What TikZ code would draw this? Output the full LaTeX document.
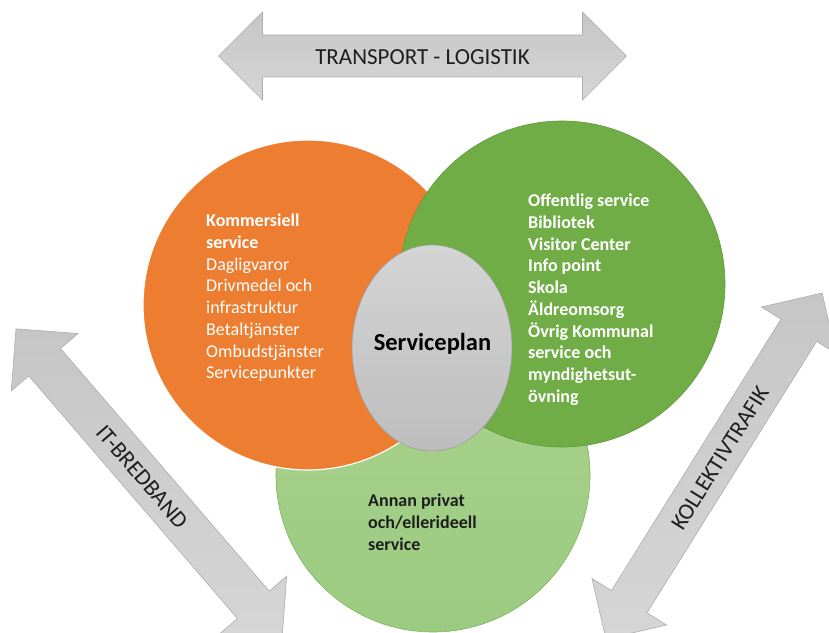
\documentclass[tikz,border=0pt]{standalone}
\usepackage{fontspec}
\setmainfont{Carlito}
\usetikzlibrary{shapes.geometric}
\definecolor{orangeC}{HTML}{ED7D31}
\definecolor{greenC}{HTML}{70AD47}
\definecolor{greenEdge}{HTML}{5E9A3A}
\definecolor{lightgreenTop}{HTML}{AAD28F}
\definecolor{lightgreenBot}{HTML}{9BCB80}
\definecolor{lightgreenEdge}{HTML}{7DB55C}
\definecolor{grayTop}{HTML}{D4D4D4}
\definecolor{grayBot}{HTML}{BDBDBD}
\definecolor{grayEdge}{HTML}{9C9C9C}
\definecolor{arrowTop}{HTML}{C6C6C6}
\definecolor{arrowBot}{HTML}{D6D6D6}
\definecolor{arrowEdge}{HTML}{AEAEAE}
\definecolor{darkText}{HTML}{1E1E1E}
\begin{document}
\begin{tikzpicture}[x=1pt,y=1pt,
  arrowshape/.style={draw=arrowEdge, line width=0.6pt, top color=arrowTop, bottom color=arrowBot},
  dblarrow/.pic={\path[arrowshape] (-204,0) -- (-160,44) -- (-160,21) -- (160,21) -- (160,44) -- (204,0) -- (160,-44) -- (160,-21) -- (-160,-21) -- (-160,-44) -- cycle;},
  blob/.style={circle, inner sep=0pt, outer sep=0pt},
  txt/.style={font=\fontsize{18}{21.7}\selectfont, align=left, inner sep=0pt, anchor=north west},
  arrowtxt/.style={font=\fontsize{23}{26}\selectfont, text=darkText, inner sep=0pt}
]
\useasboundingbox (0,0) rectangle (829,632);
\fill[white] (0,0) rectangle (829,632);

% arrows
\pic (toparrow) at (422.5,576) {dblarrow};
\pic[rotate=-49.3] (leftarrow) at (149,148.5) {dblarrow};
\pic[rotate=58] (rightarrow) at (714,166) {dblarrow};

% circles
\node[blob, minimum size=314pt, top color=lightgreenTop, bottom color=lightgreenBot, draw=lightgreenEdge, line width=0.6pt] (annan) at (433,157) {};
\node[blob, minimum size=330pt, fill=orangeC, draw=white, line width=1.2pt] (kommersiell) at (308,327) {};
\node[blob, minimum size=326pt, fill=greenC, draw=greenEdge, line width=0.6pt] (offentlig) at (562,348) {};
\node[ellipse, inner sep=0pt, minimum width=160pt, minimum height=206pt, top color=grayTop, bottom color=grayBot, draw=grayEdge, line width=0.6pt] (plan) at (432,284) {};

% texts
\node[txt, text=white] (komtxt) at (206,418) {\textbf{Kommersiell}\\\textbf{service}\\Dagligvaror\\Drivmedel och\\infrastruktur\\Betaltjänster\\Ombudstjänster\\Servicepunkter};
\node[txt, text=white, font=\fontsize{18}{21.7}\selectfont\bfseries] (offtxt) at (528,438) {Offentlig service\\Bibliotek\\Visitor Center\\Info point\\Skola\\Äldreomsorg\\Övrig Kommunal\\service och\\myndighetsut-\\övning};
\node[txt, text=darkText, font=\fontsize{18}{21.7}\selectfont\bfseries] (annantxt) at (368,138) {Annan privat\\och/ellerideell\\service};
\node[font=\fontsize{24.5}{28}\selectfont\bfseries, text=black, inner sep=0pt] (plantxt) at (432.5,288) {Serviceplan};

\node[arrowtxt] (toptxt) at (422.5,575) {TRANSPORT - LOGISTIK};
\node[arrowtxt, rotate=-49.3] (lefttxt) at (142,155) {IT-BREDBAND};
\node[arrowtxt, rotate=58] (righttxt) at (720,174) {KOLLEKTIVTRAFIK};
\end{tikzpicture}
\end{document}
